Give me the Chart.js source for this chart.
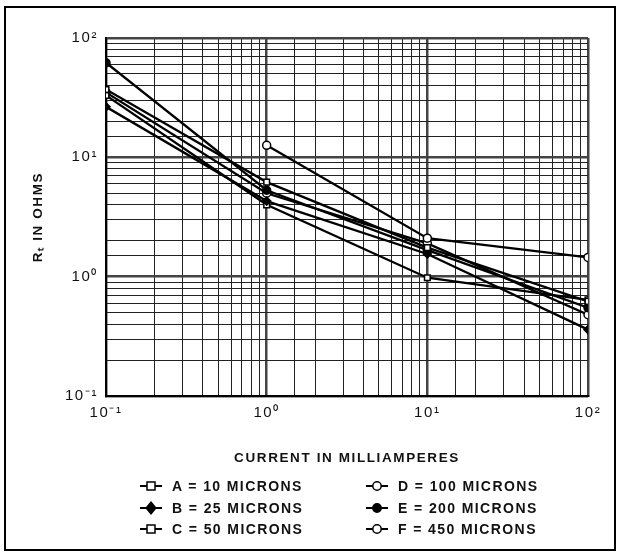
<!DOCTYPE html>
<html>
<head>
<meta charset="utf-8">
<script src="https://cdn.jsdelivr.net/npm/chart.js@4/dist/chart.umd.min.js"></script>
<style>
  html, body { margin: 0; padding: 0; background: #fff; }
  #wrap { position: relative; width: 622px; height: 556px; }
  #frame { position: absolute; left: 4px; top: 6px; width: 612px; height: 545px; border: 2px solid #000; box-sizing: border-box; pointer-events: none; }
  #legend { position: absolute; left: 0; top: 476px; width: 622px; font-family: "Liberation Sans", Arial, sans-serif; font-weight: bold; font-size: 14px; letter-spacing: 1.4px; color: #111; }
  .item { position: absolute; height: 20px; line-height: 20px; white-space: nowrap; }
  .item svg { position: absolute; left: 0; top: 3px; }
  .item span { position: absolute; left: 32px; top: 0; }
</style>
</head>
<body>
<div id="wrap">
  <canvas id="chart" width="622" height="556"></canvas>
  <div id="legend"></div>
  <div id="frame"></div>
</div>
<script>
// current in mA (x axis)
const currents = [0.1, 1, 10, 100];

// Rt in ohms for each wire size
const seriesA = [37, 6.2, 1.75, 0.62];
const seriesB = [26.5, 4.3, 1.55, 0.36];
const seriesC = [33, 4.0, 0.98, 0.64];
const seriesD = [null, 12.6, 2.1, 1.45];
const seriesE = [62, 5.3, 1.67, 0.55];
const seriesF = [35, 5.0, 1.9, 0.48];

const legendLabels = [
  "A = 10 MICRONS", "B = 25 MICRONS", "C = 50 MICRONS",
  "D = 100 MICRONS", "E = 200 MICRONS", "F = 450 MICRONS",
];
const markers = ["rect", "rectRot", "rect", "circle", "circle", "circle"];
const filled = [false, true, false, false, true, false];

const supers = { "-1": "⁻¹", "0": "⁰", "1": "¹", "2": "²" };

const toPoints = (vals) => vals.map((v, i) => ({ x: currents[i], y: v }));

const allSeries = [seriesA, seriesB, seriesC, seriesD, seriesE, seriesF];

const datasets = allSeries.map((vals, i) => ({
  label: legendLabels[i],
  data: toPoints(vals),
  borderColor: "#000",
  borderWidth: 2.3,
  pointStyle: markers[i],
  pointRadius: 4,
  pointBorderWidth: 1.5,
  pointBorderColor: "#000",
  pointBackgroundColor: filled[i] ? "#000" : "#fff",
  spanGaps: false,
}));

const isDecade = (v) => {
  const e = Math.log10(v);
  return Math.abs(e - Math.round(e)) < 1e-6;
};

const powerLabel = (v) => {
  if (!isDecade(v)) return "";
  const e = Math.round(Math.log10(v));
  return "10" + supers[String(e)];
};

const gridOpts = {
  color: (ctx) => (ctx.tick && isDecade(ctx.tick.value) ? "#444" : "#222"),
  lineWidth: (ctx) => (ctx.tick && isDecade(ctx.tick.value) ? 2.5 : 1),
  drawTicks: false,
};

const tickFont = { family: "Liberation Sans, Arial, sans-serif", size: 15 };
const titleFont = { family: "Liberation Sans, Arial, sans-serif", size: 13.5, weight: "bold" };

// wider letter spacing, as in the printed figure
const spacingPlugin = {
  id: "spacing",
  beforeDraw: (chart) => { chart.ctx.letterSpacing = "1.6px"; },
  afterDraw: (chart) => { chart.ctx.letterSpacing = "0px"; },
};

const container = document.getElementById("chart");

new Chart(container, {
  type: "line",
  data: { datasets },
  plugins: [spacingPlugin],
  options: {
    responsive: false,
    animation: false,
    layout: { padding: { left: 20, top: 38, right: 34, bottom: 85 } },
    plugins: { legend: { display: false }, tooltip: { enabled: false } },
    scales: {
      x: {
        type: "logarithmic",
        min: 0.1,
        max: 100,
        border: { color: "#000", width: 2 },
        grid: gridOpts,
        ticks: {
          autoSkip: false,
          maxRotation: 0,
          padding: 8,
          color: "#111",
          font: tickFont,
          callback: (v) => powerLabel(v),
        },
        title: {
          display: true,
          text: "CURRENT IN MILLIAMPERES",
          color: "#111",
          font: titleFont,
          padding: { top: 4, bottom: 5 },
        },
        afterFit: (scale) => { scale.height = 75; },
      },
      y: {
        type: "logarithmic",
        min: 0.1,
        max: 100,
        border: { color: "#000", width: 2 },
        grid: gridOpts,
        ticks: {
          autoSkip: false,
          padding: 8,
          color: "#111",
          font: tickFont,
          callback: (v) => powerLabel(v),
        },
        title: {
          display: true,
          text: "Rₜ IN OHMS",
          color: "#111",
          font: titleFont,
          padding: { top: 10, bottom: 10 },
        },
        afterFit: (scale) => { scale.width = 86; },
      },
    },
  },
});

// legend in two columns of three, like the printed figure
const legend = document.getElementById("legend");
legendLabels.forEach((text, i) => {
  const col = Math.floor(i / 3);
  const row = i % 3;
  const item = document.createElement("div");
  item.className = "item";
  item.style.left = (col === 0 ? 140 : 366) + "px";
  item.style.top = row * 21.5 + "px";
  const fill = filled[i] ? "#000" : "#fff";
  let shape;
  if (markers[i] === "rect") {
    shape = `<rect x="7" y="3" width="8" height="8" fill="${fill}" stroke="#000" stroke-width="1.5"/>`;
  } else if (markers[i] === "rectRot") {
    shape = `<polygon points="11,1 16,7 11,13 6,7" fill="${fill}" stroke="#000" stroke-width="1.2"/>`;
  } else {
    shape = `<circle cx="11" cy="7" r="4.2" fill="${fill}" stroke="#000" stroke-width="1.5"/>`;
  }
  item.innerHTML =
    `<svg width="22" height="14"><line x1="0" y1="7" x2="22" y2="7" stroke="#000" stroke-width="2"/>${shape}</svg>` +
    `<span>${text}</span>`;
  legend.appendChild(item);
});
</script>
</body>
</html>
